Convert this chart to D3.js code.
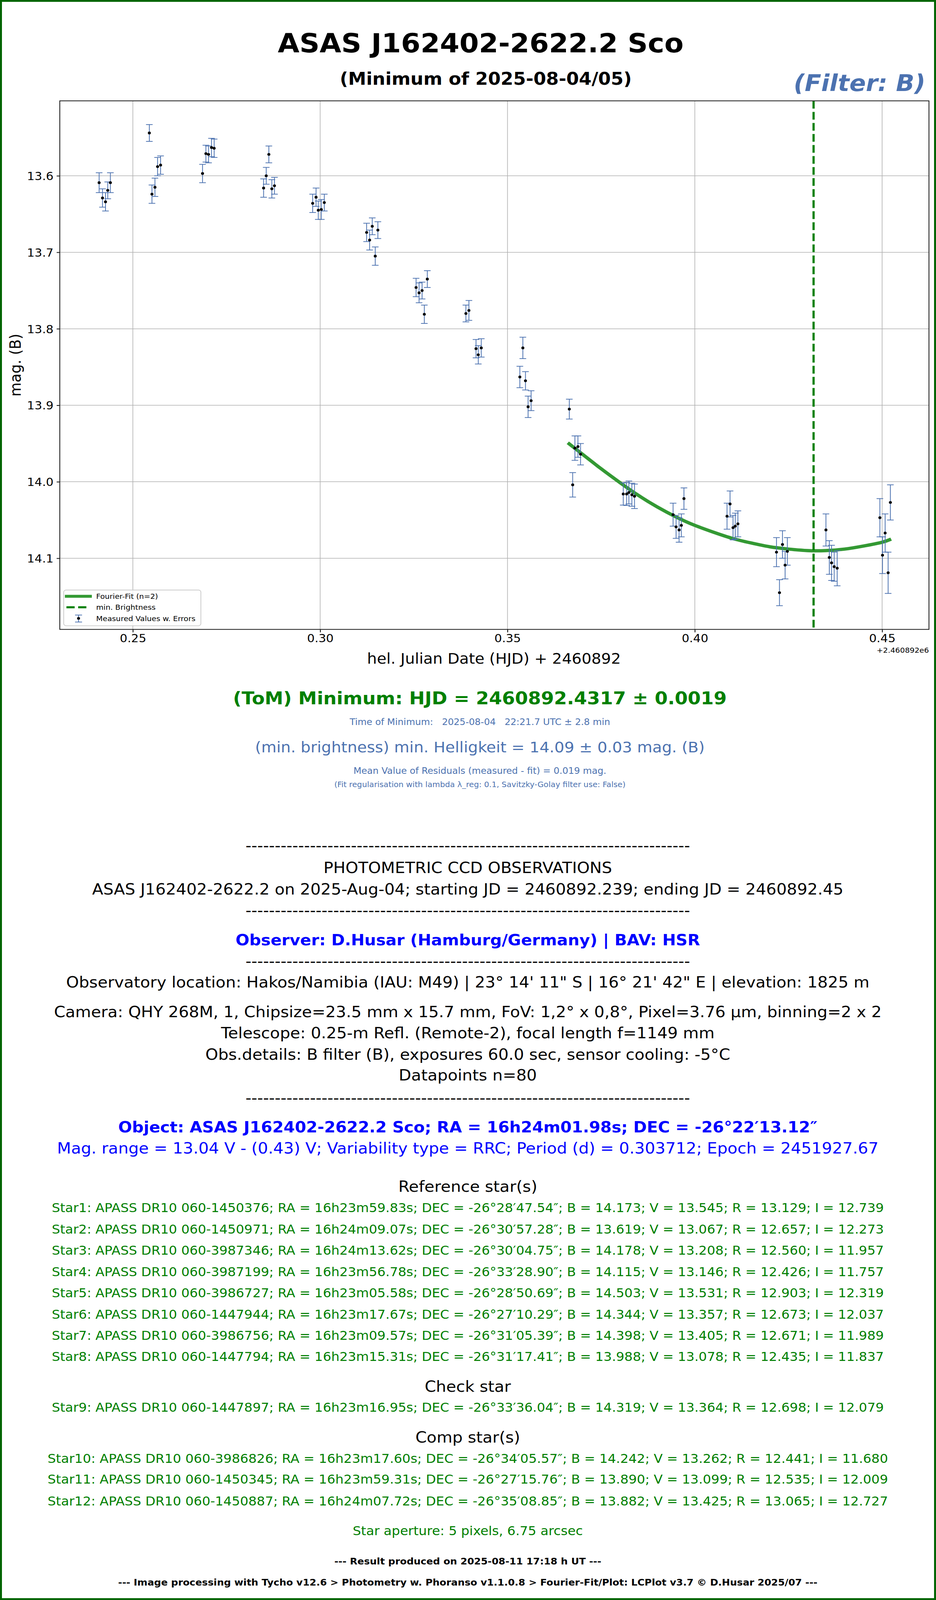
<!DOCTYPE html>
<html>
<head>
<meta charset="utf-8">
<script src="https://cdn.jsdelivr.net/npm/d3@7"></script>
<style>
  html, body { margin: 0; padding: 0; background: #ffffff; overflow: hidden; width: 100%; height: 100%; }
  svg { display: block; width: 100vw; height: 100vh; }
  text { font-family: "DejaVu Sans", sans-serif; }
</style>
</head>
<body>
<script>
// ---------------- DATA ----------------
// HJD offset from 2460892
const hjd = [
  0.2410, 0.2419, 0.2427, 0.2433, 0.2440,
  0.2544, 0.2551, 0.2559, 0.2566, 0.2574,
  0.2686, 0.2695, 0.2702, 0.2710, 0.2717,
  0.2849, 0.2856, 0.2863, 0.2871, 0.2878,
  0.2980, 0.2989, 0.2995, 0.3003, 0.3011,
  0.3124, 0.3132, 0.3139, 0.3147, 0.3154,
  0.3256, 0.3264, 0.3272, 0.3278, 0.3286,
  0.3389, 0.3397, 0.3416, 0.3422, 0.3430,
  0.3533, 0.3541, 0.3548, 0.3555, 0.3563,
  0.3665, 0.3674, 0.3680, 0.3688, 0.3695,
  0.3809, 0.3818, 0.3824, 0.3832, 0.3839,
  0.3942, 0.3950, 0.3958, 0.3964, 0.3971,
  0.4086, 0.4094, 0.4102, 0.4108, 0.4115,
  0.4218, 0.4226, 0.4234, 0.4241, 0.4247,
  0.4350, 0.4359, 0.4365, 0.4372, 0.4380,
  0.4494, 0.4501, 0.4508, 0.4516, 0.4522
];
const mag = [
  13.609, 13.629, 13.634, 13.619, 13.609,
  13.544, 13.624, 13.615, 13.588, 13.586,
  13.597, 13.571, 13.572, 13.563, 13.564,
  13.616, 13.600, 13.572, 13.617, 13.613,
  13.636, 13.628, 13.645, 13.644, 13.635,
  13.674, 13.684, 13.666, 13.705, 13.671,
  13.746, 13.753, 13.750, 13.781, 13.735,
  13.780, 13.776, 13.826, 13.834, 13.825,
  13.863, 13.825, 13.868, 13.902, 13.894,
  13.905, 14.004, 13.956, 13.954, 13.964,
  14.016, 14.016, 14.014, 14.017, 14.019,
  14.043, 14.059, 14.063, 14.057, 14.022,
  14.045, 14.029, 14.060, 14.058, 14.055,
  14.092, 14.145, 14.082, 14.109, 14.091,
  14.063, 14.099, 14.106, 14.111, 14.113,
  14.047, 14.096, 14.067, 14.119, 14.027
];
const magErr = [
  0.013, 0.012, 0.012, 0.011, 0.013,
  0.011, 0.012, 0.012, 0.012, 0.012,
  0.012, 0.011, 0.011, 0.012, 0.012,
  0.012, 0.011, 0.011, 0.012, 0.011,
  0.012, 0.012, 0.012, 0.013, 0.011,
  0.012, 0.013, 0.011, 0.012, 0.011,
  0.012, 0.013, 0.011, 0.012, 0.011,
  0.011, 0.013, 0.012, 0.012, 0.012,
  0.014, 0.014, 0.012, 0.014, 0.013,
  0.013, 0.016, 0.016, 0.014, 0.014,
  0.0145, 0.015, 0.015, 0.015, 0.016,
  0.015, 0.015, 0.016, 0.015, 0.014,
  0.017, 0.017, 0.016, 0.017, 0.017,
  0.019, 0.017, 0.018, 0.018, 0.018,
  0.021, 0.022, 0.023, 0.019, 0.023,
  0.025, 0.024, 0.025, 0.027, 0.023
];
// Fourier fit curve (n=2)
const fitHjd = [0.3661, 0.370, 0.375, 0.380, 0.385, 0.390, 0.395, 0.400, 0.405, 0.410,
                0.415, 0.420, 0.425, 0.430, 0.435, 0.440, 0.445, 0.450, 0.4524];
const fitMag = [13.949, 13.964, 13.983, 14.001, 14.018, 14.033, 14.046, 14.057, 14.066, 14.074,
                14.080, 14.085, 14.088, 14.090, 14.090, 14.088, 14.084, 14.079, 14.075];
const minHjd = 0.4317;

const xTicks = [0.25, 0.30, 0.35, 0.40, 0.45];
const xTickLabels = ["0.25", "0.30", "0.35", "0.40", "0.45"];
const yTicks = [13.6, 13.7, 13.8, 13.9, 14.0, 14.1];
const yTickLabels = ["13.6", "13.7", "13.8", "13.9", "14.0", "14.1"];
const legendLabels = ["Fourier-Fit (n=2)", "min. Brightness", "Measured Values w. Errors"];

const titleText = "ASAS J162402-2622.2 Sco";
const subtitleText = "(Minimum of 2025-08-04/05)";
const filterText = "(Filter: B)";
const xLabel = "hel. Julian Date (HJD) + 2460892";
const yLabel = "mag. (B)";
const offsetText = "+2.460892e6";

const resultLines = [
  "(ToM) Minimum: HJD = 2460892.4317 ± 0.0019",
  "Time of Minimum:   2025-08-04   22:21.7 UTC ± 2.8 min",
  "(min. brightness) min. Helligkeit = 14.09 ± 0.03 mag. (B)",
  "Mean Value of Residuals (measured - fit) = 0.019 mag.",
  "(Fit regularisation with lambda λ_reg: 0.1, Savitzky-Golay filter use: False)"
];
const dashes = "-".repeat(76);
const obsLines = [
  "PHOTOMETRIC CCD OBSERVATIONS",
  "ASAS J162402-2622.2 on 2025-Aug-04; starting JD = 2460892.239; ending JD = 2460892.45",
  "Observer: D.Husar (Hamburg/Germany) | BAV: HSR",
  "Observatory location: Hakos/Namibia (IAU: M49) | 23° 14' 11\" S | 16° 21' 42\" E | elevation: 1825 m",
  "Camera: QHY 268M, 1, Chipsize=23.5 mm x 15.7 mm, FoV: 1,2° x 0,8°, Pixel=3.76 µm, binning=2 x 2",
  "Telescope: 0.25-m Refl. (Remote-2), focal length f=1149 mm",
  "Obs.details: B filter (B), exposures 60.0 sec, sensor cooling: -5°C",
  "Datapoints n=80",
  "Object: ASAS J162402-2622.2 Sco; RA = 16h24m01.98s; DEC = -26°22′13.12″",
  "Mag. range = 13.04 V - (0.43) V; Variability type = RRC; Period (d) = 0.303712; Epoch = 2451927.67"
];
const refStars = [
  "Star1: APASS DR10 060-1450376; RA = 16h23m59.83s; DEC = -26°28′47.54″; B = 14.173; V = 13.545; R = 13.129; I = 12.739",
  "Star2: APASS DR10 060-1450971; RA = 16h24m09.07s; DEC = -26°30′57.28″; B = 13.619; V = 13.067; R = 12.657; I = 12.273",
  "Star3: APASS DR10 060-3987346; RA = 16h24m13.62s; DEC = -26°30′04.75″; B = 14.178; V = 13.208; R = 12.560; I = 11.957",
  "Star4: APASS DR10 060-3987199; RA = 16h23m56.78s; DEC = -26°33′28.90″; B = 14.115; V = 13.146; R = 12.426; I = 11.757",
  "Star5: APASS DR10 060-3986727; RA = 16h23m05.58s; DEC = -26°28′50.69″; B = 14.503; V = 13.531; R = 12.903; I = 12.319",
  "Star6: APASS DR10 060-1447944; RA = 16h23m17.67s; DEC = -26°27′10.29″; B = 14.344; V = 13.357; R = 12.673; I = 12.037",
  "Star7: APASS DR10 060-3986756; RA = 16h23m09.57s; DEC = -26°31′05.39″; B = 14.398; V = 13.405; R = 12.671; I = 11.989",
  "Star8: APASS DR10 060-1447794; RA = 16h23m15.31s; DEC = -26°31′17.41″; B = 13.988; V = 13.078; R = 12.435; I = 11.837"
];
const checkStars = [
  "Star9: APASS DR10 060-1447897; RA = 16h23m16.95s; DEC = -26°33′36.04″; B = 14.319; V = 13.364; R = 12.698; I = 12.079"
];
const compStars = [
  "Star10: APASS DR10 060-3986826; RA = 16h23m17.60s; DEC = -26°34′05.57″; B = 14.242; V = 13.262; R = 12.441; I = 11.680",
  "Star11: APASS DR10 060-1450345; RA = 16h23m59.31s; DEC = -26°27′15.76″; B = 13.890; V = 13.099; R = 12.535; I = 12.009",
  "Star12: APASS DR10 060-1450887; RA = 16h24m07.72s; DEC = -26°35′08.85″; B = 13.882; V = 13.425; R = 13.065; I = 12.727"
];
const apertureText = "Star aperture: 5 pixels, 6.75 arcsec";
const footerLines = [
  "--- Result produced on 2025-08-11 17:18 h UT ---",
  "--- Image processing with Tycho v12.6 > Photometry w. Phoranso v1.1.0.8 > Fourier-Fit/Plot: LCPlot v3.7 © D.Husar 2025/07 ---"
];

// ---------------- LAYOUT ----------------
const W = 2395, H = 4347;
const P = { left: 153, right: 2377, top: 274, bottom: 1710 };
const BLUE_T = "#4C72B0";
const FIT_C = "#339933";

// The drawing is laid out on a 2395x4347 canvas and scaled to fill the window.
const svg = d3.select("body").append("svg")
  .attr("viewBox", `0 0 ${W} ${H}`)
  .attr("preserveAspectRatio", "none");

svg.append("rect").attr("x", 0).attr("y", 0).attr("width", W).attr("height", H).attr("fill", "#ffffff");

const x = d3.scaleLinear().domain([0.2305, 0.4625]).range([P.left, P.right]);
const y = d3.scaleLinear().domain([13.502, 14.193]).range([P.top, P.bottom]);

const pts = hjd.map((t, i) => ({ t, m: mag[i], e: magErr[i] }));
const fit = fitHjd.map((t, i) => ({ t, m: fitMag[i] }));

// Titles
svg.append("text").attr("x", 1230).attr("y", 142).attr("text-anchor", "middle")
  .attr("font-size", 71.6).attr("font-weight", "bold").attr("fill", "#000").text(titleText);
svg.append("text").attr("x", 1243).attr("y", 230).attr("text-anchor", "middle")
  .attr("font-size", 46.5).attr("font-weight", "bold").attr("fill", "#000").text(subtitleText);
svg.append("text").attr("x", 2368).attr("y", 247).attr("text-anchor", "end")
  .attr("font-size", 62).attr("font-weight", "bold").attr("font-style", "italic")
  .attr("fill", BLUE_T).text(filterText);

// Grid
const g = svg.append("g");
g.selectAll("line.gx").data(xTicks).join("line").attr("class", "gx")
  .attr("x1", d => x(d)).attr("x2", d => x(d)).attr("y1", P.top).attr("y2", P.bottom)
  .attr("stroke", "#b0b0b0").attr("stroke-width", 1.6);
g.selectAll("line.gy").data(yTicks).join("line").attr("class", "gy")
  .attr("x1", P.left).attr("x2", P.right).attr("y1", d => y(d)).attr("y2", d => y(d))
  .attr("stroke", "#b0b0b0").attr("stroke-width", 1.6);

// Axes
const xAxis = d3.axisBottom(x).tickValues(xTicks).tickFormat((d, i) => xTickLabels[i]).tickSize(8).tickSizeOuter(0);
const yAxis = d3.axisLeft(y).tickValues(yTicks).tickFormat((d, i) => yTickLabels[i]).tickSize(8).tickSizeOuter(0);

const gx = svg.append("g").attr("transform", `translate(0,${P.bottom})`).call(xAxis);
gx.select(".domain").remove();
gx.selectAll(".tick line").attr("stroke", "#000").attr("stroke-width", 2);
gx.selectAll(".tick text").attr("y", 35).attr("dy", 0).attr("font-size", 30.5)
  .attr("font-family", "DejaVu Sans").attr("fill", "#000");

const gy = svg.append("g").attr("transform", `translate(${P.left},0)`).call(yAxis);
gy.select(".domain").remove();
gy.selectAll(".tick line").attr("stroke", "#000").attr("stroke-width", 2);
gy.selectAll(".tick text").attr("x", -16).attr("dy", "0.36em").attr("font-size", 30.5)
  .attr("font-family", "DejaVu Sans").attr("fill", "#000");

// Axis labels
svg.append("text").attr("x", 1264).attr("y", 1803).attr("text-anchor", "middle")
  .attr("font-size", 39.5).attr("fill", "#000").text(xLabel);
svg.append("text").attr("transform", `translate(53,${(P.top + P.bottom) / 2}) rotate(-90)`)
  .attr("text-anchor", "middle").attr("font-size", 39.5).attr("fill", "#000").text(yLabel);
svg.append("text").attr("x", P.right).attr("y", 1773).attr("text-anchor", "end")
  .attr("font-size", 19.5).attr("fill", "#000").text(offsetText);

// Plot content
const plot = svg.append("g");
plot.append("path").datum(fit)
  .attr("d", d3.line().x(d => x(d.t)).y(d => y(d.m)).curve(d3.curveNatural))
  .attr("fill", "none").attr("stroke", FIT_C).attr("stroke-width", 9).attr("stroke-linecap", "butt");

plot.append("line").attr("x1", x(minHjd)).attr("x2", x(minHjd))
  .attr("y1", P.top).attr("y2", P.bottom)
  .attr("stroke", "#008000").attr("stroke-width", 5.6).attr("stroke-dasharray", "21,9");

const cap = 8.5;
const eb = plot.append("g").attr("stroke", BLUE_T).attr("stroke-width", 2);
eb.selectAll("line.v").data(pts).join("line").attr("class", "v")
  .attr("x1", d => x(d.t)).attr("x2", d => x(d.t))
  .attr("y1", d => y(d.m - d.e)).attr("y2", d => y(d.m + d.e));
eb.selectAll("line.c1").data(pts).join("line").attr("class", "c1")
  .attr("x1", d => x(d.t) - cap).attr("x2", d => x(d.t) + cap)
  .attr("y1", d => y(d.m - d.e)).attr("y2", d => y(d.m - d.e));
eb.selectAll("line.c2").data(pts).join("line").attr("class", "c2")
  .attr("x1", d => x(d.t) - cap).attr("x2", d => x(d.t) + cap)
  .attr("y1", d => y(d.m + d.e)).attr("y2", d => y(d.m + d.e));
plot.selectAll("circle.pt").data(pts).join("circle").attr("class", "pt")
  .attr("cx", d => x(d.t)).attr("cy", d => y(d.m)).attr("r", 3.8).attr("fill", "#000");

// Frame (spines)
svg.append("rect").attr("x", P.left).attr("y", P.top)
  .attr("width", P.right - P.left).attr("height", P.bottom - P.top)
  .attr("fill", "none").attr("stroke", "#222").attr("stroke-width", 2.2);

// Legend
const lg = svg.append("g");
lg.append("rect").attr("x", 163).attr("y", 1603).attr("width", 351).attr("height", 97).attr("rx", 6)
  .attr("fill", "#ffffff").attr("fill-opacity", 0.8).attr("stroke", "#cccccc").attr("stroke-width", 2);
lg.append("line").attr("x1", 166).attr("x2", 235).attr("y1", 1620).attr("y2", 1620)
  .attr("stroke", FIT_C).attr("stroke-width", 8);
lg.append("line").attr("x1", 170).attr("x2", 223).attr("y1", 1650).attr("y2", 1650)
  .attr("stroke", "#008000").attr("stroke-width", 5.6).attr("stroke-dasharray", "21,9");
const lgE = lg.append("g").attr("stroke", BLUE_T).attr("stroke-width", 2);
lgE.append("line").attr("x1", 201).attr("x2", 201).attr("y1", 1671).attr("y2", 1690);
lgE.append("line").attr("x1", 192).attr("x2", 210).attr("y1", 1671).attr("y2", 1671);
lgE.append("line").attr("x1", 192).attr("x2", 210).attr("y1", 1690).attr("y2", 1690);
lg.append("circle").attr("cx", 201).attr("cy", 1680).attr("r", 3.8).attr("fill", "#000");
lg.selectAll("text.lt").data(legendLabels).join("text").attr("class", "lt")
  .attr("x", 246).attr("y", (d, i) => 1627 + i * 30)
  .attr("font-size", 19.4).attr("fill", "#000").text(d => d);

// Result text block (under the plot)
const resStyle = [
  { y: 1914, size: 47.8, weight: "bold", fill: "#008000" },
  { y: 1970, size: 23.7, weight: "normal", fill: BLUE_T },
  { y: 2044, size: 40, weight: "normal", fill: BLUE_T },
  { y: 2102, size: 23.6, weight: "normal", fill: BLUE_T },
  { y: 2138, size: 20.2, weight: "normal", fill: BLUE_T }
];
resultLines.forEach((t, i) => {
  const s = resStyle[i];
  svg.append("text").attr("x", 1228).attr("y", s.y).attr("text-anchor", "middle")
    .attr("font-size", s.size).attr("font-weight", s.weight).attr("fill", s.fill)
    .style("white-space", "pre").text(t);
});

// Observation block
const CX = 1197;
const FS = 41.5, FS_STAR = 33.5, FS_FOOT = 25;
function line(txt, yy, size, fill, weight) {
  svg.append("text").attr("x", CX).attr("y", yy).attr("text-anchor", "middle")
    .attr("font-size", size).attr("font-weight", weight || "normal").attr("fill", fill)
    .style("white-space", "pre").text(txt);
}
[2312, 2488, 2626, 2997].forEach(yy => line(dashes, yy, FS, "#000"));
line(obsLines[0], 2372, FS, "#000");
line(obsLines[1], 2430, FS, "#000");
line(obsLines[2], 2568, FS, "#0000ff", "bold");
line(obsLines[3], 2683, FS, "#000");
line(obsLines[4], 2764, FS, "#000");
line(obsLines[5], 2821, FS, "#000");
line(obsLines[6], 2879, FS, "#000");
line(obsLines[7], 2936, FS, "#000");
line(obsLines[8], 3077, FS, "#0000ff", "bold");
line(obsLines[9], 3134, FS, "#0000ff");

line("Reference star(s)", 3238, 41.4, "#000");
const refY = [3293, 3352, 3409, 3467, 3525, 3583, 3640, 3697];
refStars.forEach((t, i) => line(t, refY[i], FS_STAR, "#008000"));
line("Check star", 3781, 41.4, "#000");
checkStars.forEach(t => line(t, 3836, FS_STAR, "#008000"));
line("Comp star(s)", 3919, 41.4, "#000");
const compY = [3974, 4031, 4090];
compStars.forEach((t, i) => line(t, compY[i], FS_STAR, "#008000"));
line(apertureText, 4171, FS_STAR, "#008000");
line(footerLines[0], 4250, FS_FOOT, "#000", "bold");
line(footerLines[1], 4308, FS_FOOT, "#000", "bold");

// Outer green frame
svg.append("rect").attr("x", 2.5).attr("y", 2.5).attr("width", W - 5).attr("height", H - 5)
  .attr("fill", "none").attr("stroke", "#006400").attr("stroke-width", 5);
</script>
</body>
</html>
